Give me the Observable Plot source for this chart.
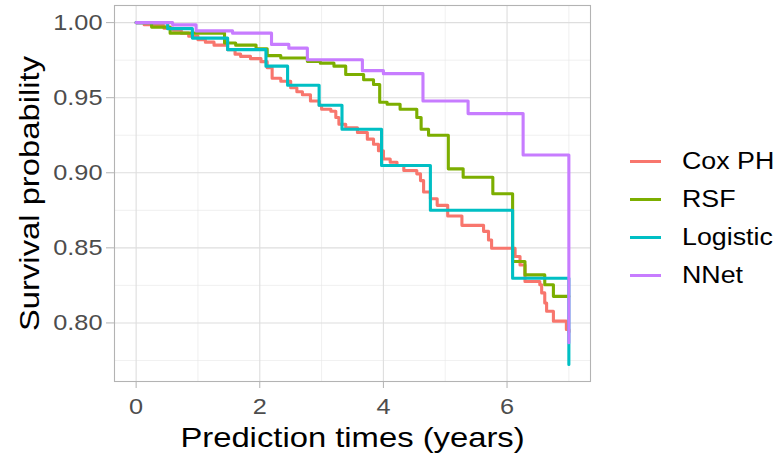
<!DOCTYPE html>
<html><head><meta charset="utf-8">
<script src="https://cdn.jsdelivr.net/npm/d3@7"></script>
<script src="https://cdn.jsdelivr.net/npm/@observablehq/plot@0.6"></script>
<style>
body{margin:0;background:#fff;}
#wrap{position:relative;width:773px;height:459px;font-family:"Liberation Sans",Arial,sans-serif;}
#wrap svg{position:absolute;left:0;top:0;}
.lg{position:absolute;left:630px;height:30px;display:flex;align-items:center;font-size:23.5px;color:#000;white-space:nowrap;}
.lg .sw{width:31px;height:3px;margin-right:21px;flex:none;}
.lg .tx{display:inline-block;transform:scaleX(1.14);transform-origin:left center;}
</style></head><body><div id="wrap"></div>
<script>
const seriesNames = ["Cox PH","RSF","Logistic","NNet"];
const seriesColors = ["#F8766D","#7CAE00","#00BFC4","#C77CFF"];

const coxTimes = [0,0.13,0.3,0.45,0.6,0.73,0.85,1.0,1.12,1.26,1.48,1.6,1.69,1.85,2.02,2.12,2.2,2.34,2.5,2.6,2.69,2.82,2.96,3.0,3.15,3.23,3.28,3.39,3.58,3.74,3.84,3.92,4.0,4.11,4.22,4.33,4.54,4.6,4.65,4.76,4.87,5.04,5.27,5.62,5.7,5.75,6.13,6.21,6.29,6.53,6.56,6.61,6.64,6.75,6.96,7.0];
const coxSurv = [1.0,0.9986,0.998,0.9963,0.995,0.993,0.991,0.9886,0.987,0.985,0.982,0.979,0.9775,0.976,0.974,0.970,0.963,0.961,0.9566,0.954,0.952,0.9478,0.945,0.9423,0.941,0.9368,0.9323,0.930,0.9268,0.9224,0.919,0.9147,0.9092,0.907,0.9048,0.9015,0.8993,0.8948,0.8872,0.8827,0.8783,0.8712,0.865,0.861,0.8552,0.8497,0.8442,0.8386,0.8276,0.8254,0.82,0.8133,0.8078,0.8012,0.7956,0.794];

const rsfTimes = [0,0.25,0.55,1.43,1.61,1.94,2.12,2.34,2.77,2.98,3.2,3.39,3.68,3.84,3.94,4.06,4.27,4.54,4.61,4.73,5.05,5.29,5.77,6.09,6.29,6.61,6.75,7.0];
const rsfSurv = [1.0,0.997,0.993,0.9864,0.985,0.9826,0.978,0.9764,0.9742,0.973,0.971,0.9654,0.962,0.9588,0.947,0.9456,0.9423,0.9368,0.929,0.925,0.9026,0.897,0.886,0.8409,0.832,0.8254,0.8177,0.8177];

const logTimes = [0,0.51,0.91,1.48,2.1,2.45,2.96,3.33,3.97,4.76,6.09,7.0];
const logSurv = [1.0,0.996,0.9897,0.982,0.971,0.9583,0.945,0.929,0.9048,0.875,0.8298,0.7723];

const nnTimes = [0,0.59,0.97,1.56,2.19,2.47,2.77,3.66,4.0,4.64,5.37,6.26,7.0];
const nnSurv = [1.0,0.9985,0.9945,0.993,0.9855,0.983,0.9753,0.968,0.966,0.9478,0.9394,0.9118,0.7868];

const xTicks = [0,2,4,6];
const xMinor = [1,3,5,7];
const yTicks = [0.80,0.85,0.90,0.95,1.00];
const yMinor = [0.775,0.825,0.875,0.925,0.975];
const xTitle = "Prediction times (years)";
const yTitle = "Survival probability";

const allTimes = [coxTimes, rsfTimes, logTimes, nnTimes];
const allSurv = [coxSurv, rsfSurv, logSurv, nnSurv];
const data = [];
seriesNames.forEach((name, i) => {
  allTimes[i].forEach((t, j) => data.push({series: name, t, s: allSurv[i][j]}));
});

const plot = Plot.plot({
  width: 773, height: 459,
  marginLeft: 114, marginRight: 183, marginTop: 5, marginBottom: 78,
  style: {fontFamily: '"Liberation Sans",Arial,sans-serif', background: "transparent"},
  x: {domain: [-0.35, 7.35]},
  y: {domain: [0.761, 1.0114]},
  color: {domain: seriesNames, range: seriesColors},
  marks: [
    Plot.gridX(xMinor, {stroke: "#e5e5e5", strokeOpacity: 1, strokeWidth: 0.6}),
    Plot.gridY(yMinor, {stroke: "#e5e5e5", strokeOpacity: 1, strokeWidth: 0.6}),
    Plot.gridX(xTicks, {stroke: "#dedede", strokeOpacity: 1, strokeWidth: 1.1}),
    Plot.gridY(yTicks, {stroke: "#dedede", strokeOpacity: 1, strokeWidth: 1.1}),
    Plot.line(data, {x: "t", y: "s", z: "series", stroke: "series", curve: "step-after", strokeWidth: 3.1}),
    Plot.frame({stroke: "#b3b3b3", strokeWidth: 1.1}),
    Plot.axisX({ticks: xTicks, tickSize: 7, tickPadding: 10, fontSize: 22, stroke: "#b3b3b3", fill: "#4d4d4d", label: null}),
    Plot.axisY({ticks: yTicks, tickSize: 8, tickPadding: 4, fontSize: 22, stroke: "#b3b3b3", fill: "#4d4d4d", tickFormat: d3.format(".2f"), label: null}),
    Plot.text([xTitle], {frameAnchor: "bottom", textAnchor: "middle", lineAnchor: "middle", dy: 56, text: d => d, fontSize: 28.5, fill: "#000"}),
    Plot.text([yTitle], {frameAnchor: "left", textAnchor: "middle", lineAnchor: "middle", dx: -85, rotate: -90, text: d => d, fontSize: 28.5, fill: "#000"})
  ]
});
const wrap = document.getElementById("wrap");
wrap.appendChild(plot);
// the reference's lettering is wider than Liberation Sans: stretch each text horizontally
const STRETCH = 1.15;
plot.querySelectorAll("text").forEach(t => {
  const len = t.getComputedTextLength();
  if (len > 0) {
    t.setAttribute("textLength", (len * STRETCH).toFixed(2));
    t.setAttribute("lengthAdjust", "spacingAndGlyphs");
  }
});
const legendY = [161.7, 199.3, 237.7, 275.7];
seriesNames.forEach((name, i) => {
  const row = document.createElement("div");
  row.className = "lg";
  row.style.top = (legendY[i] - 15) + "px";
  const sw = document.createElement("div");
  sw.className = "sw";
  sw.style.background = seriesColors[i];
  row.appendChild(sw);
  const tx = document.createElement("span");
  tx.className = "tx";
  tx.textContent = name;
  row.appendChild(tx);
  wrap.appendChild(row);
});
</script></body></html>
